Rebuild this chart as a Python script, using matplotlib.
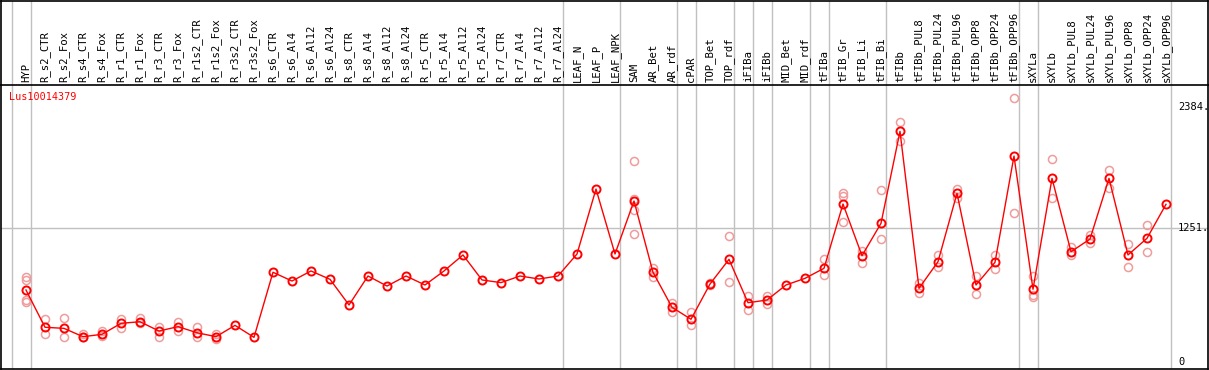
import numpy as np
import matplotlib
matplotlib.use("Agg")
import matplotlib.pyplot as plt

# Conditions (eixo x)
conditions = [
    "HYP", "R_s2_CTR", "R_s2_Fox", "R_s4_CTR", "R_s4_Fox", "R_r1_CTR", "R_r1_Fox",
    "R_r3_CTR", "R_r3_Fox", "R_r1s2_CTR", "R_r1s2_Fox", "R_r3s2_CTR", "R_r3s2_Fox",
    "R_s6_CTR", "R_s6_Al4", "R_s6_Al12", "R_s6_Al24", "R_s8_CTR", "R_s8_Al4",
    "R_s8_Al12", "R_s8_Al24", "R_r5_CTR", "R_r5_Al4", "R_r5_Al12", "R_r5_Al24",
    "R_r7_CTR", "R_r7_Al4", "R_r7_Al12", "R_r7_Al24", "LEAF_N", "LEAF_P", "LEAF_NPK",
    "SAM", "AR_Bet", "AR_rdf", "cPAR", "TOP_Bet", "TOP_rdf", "iFIBa", "iFIBb",
    "MID_Bet", "MID_rdf", "tFIBa", "tFIB_Gr", "tFIB_Li", "tFIB_Bi", "tFIBb",
    "tFIBb_PUL8", "tFIBb_PUL24", "tFIBb_PUL96", "tFIBb_OPP8", "tFIBb_OPP24",
    "tFIBb_OPP96", "sXYLa", "sXYLb", "sXYLb_PUL8", "sXYLb_PUL24", "sXYLb_PUL96",
    "sXYLb_OPP8", "sXYLb_OPP24", "sXYLb_OPP96",
]

# media por condicao
means = [
    673, 324, 314, 236, 258, 361, 376, 289, 330, 273, 236, 342, 230,
    839, 757, 851, 773, 533, 804, 710, 804, 720, 851, 1001, 767,
    742, 804, 776, 804, 1010, 1618, 1010,
    1506, 839, 511, 399, 729, 960, 554, 579, 720, 782, 876, 1478, 994, 1297, 2158,
    689, 938, 1578, 720, 932, 1927, 680, 1718, 1031, 1150, 1718, 1001, 1157, 1475,
]

# replicas (vazias quando nao aparecem)
replicates = [
    [792, 767, 579, 558], [399, 258], [408, 230], [258, 230], [292, 242],
    [402, 314], [408, 361], [330, 236], [371, 292], [324, 236], [258, 212], [], [],
    [], [], [], [], [], [], [], [], [], [], [], [],
    [], [], [], [], [], [], [],
    [1880, 1522, 1422, 1197], [876, 797], [548, 470], [470, 345], [735, 722],
    [1178, 745], [617, 486], [620, 539], [], [], [960, 813], [1578, 1553, 1307],
    [1041, 923], [1609, 1148], [2243, 2068],
    [736, 648], [1001, 891], [1618, 1537], [804, 633], [1001, 867], [2467, 1391],
    [804, 626, 610], [1896, 1531], [1072, 1001], [1188, 1110], [1796, 1630],
    [1104, 885], [1281, 1031], [],
]

# fronteiras de grupo (linha vertical depois destes indices)
group_ends = [-1, 0, 28, 31, 34, 35, 37, 38, 39, 41, 42, 45, 52, 53, 60]

gene = "Lus10014379"
ytick_values = [2384, 1251, 0]
ytick_labels = ["2384.", "1251.", "0"]
mid_line = 1251

W, H = 1209, 370
fig = plt.figure(figsize=(W / 100, H / 100), dpi=100)

# geometria em pixels
x0_pix, x_step = 26.0, 19.0
left_pix, right_pix = 1.0, 1208.0
top_pix, sep_pix, bot_pix = 0.5, 85.0, 369.0
zero_pix, v_per_pix = 361.9, 9.36

xlim = ((left_pix - x0_pix) / x_step, (right_pix - x0_pix) / x_step)
ylim = (-(bot_pix - zero_pix) * v_per_pix, (zero_pix - sep_pix) * v_per_pix)

ax = fig.add_axes([left_pix / W, 1 - bot_pix / H,
                   (right_pix - left_pix) / W, (bot_pix - sep_pix) / H])
ax_lab = fig.add_axes([left_pix / W, 1 - sep_pix / H,
                       (right_pix - left_pix) / W, (sep_pix - top_pix) / H])

grey = "#c0c0c0"
red = "#ff0000"
pink = "#f09c9c"

for a in (ax, ax_lab):
    a.set_xlim(*xlim)
    a.set_xticks([])
    a.set_yticks([])
    for s in a.spines.values():
        s.set_color("black")
        s.set_linewidth(1.2)
    for g in group_ends:
        a.axvline(g + 4.5 / x_step, color=grey, lw=1.0, zorder=0)

ax.set_ylim(*ylim)
ax_lab.set_ylim(0, 1)
ax.spines["top"].set_visible(False)

ax.axhline(mid_line, color=grey, lw=1.0, zorder=0)

x = np.arange(len(conditions))

# replicas
rx, ry = [], []
for i, reps in enumerate(replicates):
    for v in reps:
        rx.append(i)
        ry.append(v)
ax.plot(rx, ry, "o", ms=5.8, mfc="none", mec=pink, mew=1.1, zorder=2)

# media
ax.plot(x, means, "-", color=red, lw=1.0, zorder=3)
ax.plot(x, means, "o", ms=5.8, mfc="none", mec=red, mew=1.4, zorder=4)

# rotulos das condicoes
for i, name in enumerate(conditions):
    ax_lab.text(i, 3.0 / (sep_pix - top_pix), name, rotation=90,
                ha="center", va="bottom", fontsize=7.7,
                family="DejaVu Sans Mono")

# escala a direita
for v, lab in zip(ytick_values, ytick_labels):
    ax.text((1178 - x0_pix) / x_step, v, lab, ha="left", va="center",
            fontsize=7.5, family="DejaVu Sans Mono")

ax.text((9.0 - left_pix) / (right_pix - left_pix),
        1 - 12.0 / (bot_pix - sep_pix), gene, transform=ax.transAxes,
        ha="left", va="center", color=red, fontsize=7.3,
        family="DejaVu Sans Mono")

fig.savefig("out.png", dpi=100)
